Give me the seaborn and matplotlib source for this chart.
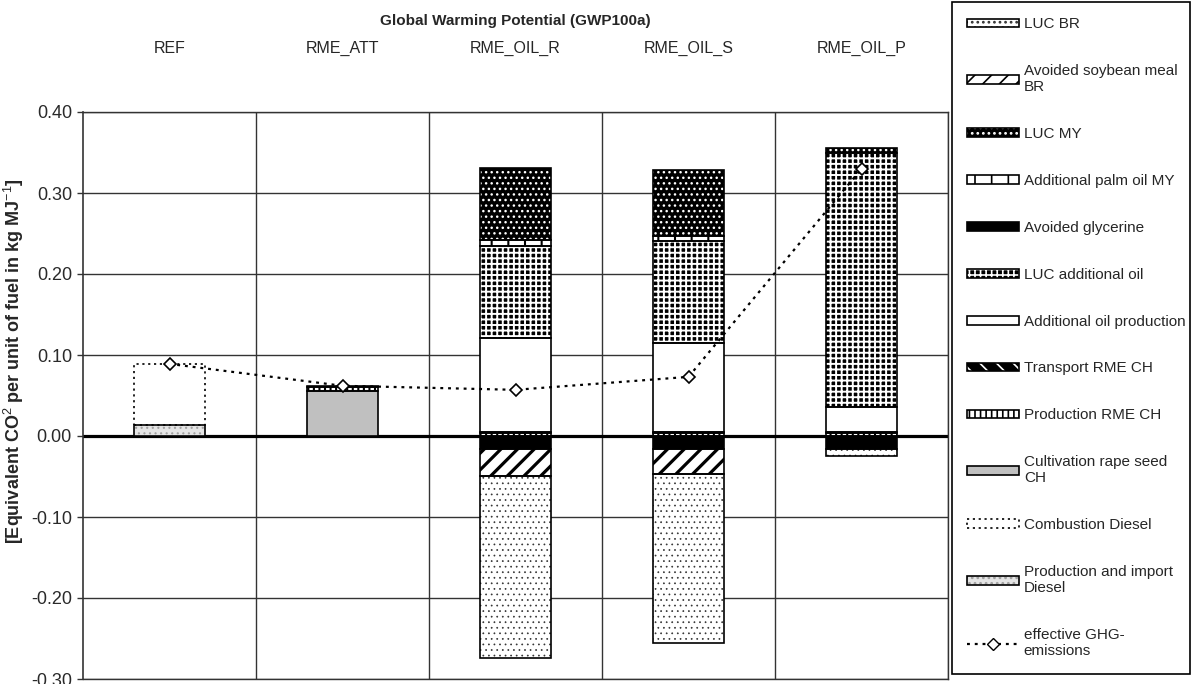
import numpy as np
import matplotlib
matplotlib.use("Agg")
import matplotlib.pyplot as plt
import matplotlib.patches as mpatches
from matplotlib.lines import Line2D
import seaborn as sns

# style
sns.set_style("white")
plt.rcParams['font.family'] = ['Liberation Sans', 'DejaVu Sans']
plt.rcParams['mathtext.fontset'] = 'custom'
plt.rcParams['mathtext.rm'] = 'Liberation Sans'
plt.rcParams['mathtext.bf'] = 'Liberation Sans:bold'
plt.rcParams['hatch.linewidth'] = 1.2

DOTTED = (0, (1.3, 2.2))

# ==========================================
# data (kg CO2-eq per MJ fuel)
# ==========================================
categories = ["REF", "RME_ATT", "RME_OIL_R", "RME_OIL_S", "RME_OIL_P"]

# stacking order, bottom -> top
prod_import_diesel = [0.014, 0.0, 0.0, 0.0, 0.0]
combustion_diesel = [0.075, 0.0, 0.0, 0.0, 0.0]
cultivation_rape = [0.0, 0.055, 0.0, 0.0, 0.0]
production_rme = [0.0, 0.006, 0.004, 0.004, 0.004]
transport_rme = [0.0, 0.001, 0.001, 0.001, 0.001]
add_oil_production = [0.0, 0.0, 0.116, 0.110, 0.031]
luc_add_oil = [0.0, 0.0, 0.114, 0.126, 0.314]
avoided_glycerine = [0.0, 0.0, -0.0165, -0.0165, -0.0165]
add_palm_oil_my = [0.0, 0.0, 0.007, 0.006, 0.0]
luc_my = [0.0, 0.0, 0.089, 0.082, 0.005]
avoided_soybean = [0.0, 0.0, -0.0325, -0.0305, 0.0]
luc_br = [0.0, 0.0, -0.2245, -0.2086, -0.008]

effective_ghg = [0.089, 0.062, 0.057, 0.073, 0.330]

y_ticks = [-0.30, -0.20, -0.10, 0.00, 0.10, 0.20, 0.30, 0.40]

# (label, values, face, hatch, hatch colour, hatch width, edge style)
layers = [
    ("Production and import\nDiesel", prod_import_diesel, '#e4e4e4', '...', '#a0a0a0', 0.8, '-'),
    ("Combustion Diesel", combustion_diesel, 'white', None, None, 1.0, DOTTED),
    ("Cultivation rape seed\nCH", cultivation_rape, '#c0c0c0', None, None, 1.0, '-'),
    ("Production RME CH", production_rme, 'white', '|||', 'black', 1.5, '-'),
    ("Transport RME CH", transport_rme, 'black', '\\\\', 'white', 1.2, '-'),
    ("Additional oil production", add_oil_production, 'white', None, None, 1.0, '-'),
    ("LUC additional oil", luc_add_oil, 'black', '+++', 'white', 1.4, '-'),
    ("Avoided glycerine", avoided_glycerine, 'black', None, None, 1.0, '-'),
    ("Additional palm oil MY", add_palm_oil_my, 'white', '|', 'black', 1.5, '-'),
    ("LUC MY", luc_my, 'black', '...', 'white', 1.0, '-'),
    ("Avoided soybean meal\nBR", avoided_soybean, 'white', '//', 'black', 2.3, '-'),
    ("LUC BR", luc_br, 'white', '...', '#333333', 0.5, '-'),
]

# ==========================================
# plot
# ==========================================
fig = plt.figure(figsize=(11.93, 6.84), dpi=100)
ax = fig.add_axes([83 / 1193, 5 / 684, 865 / 1193, 567 / 684])

x = np.arange(len(categories))
width = 0.405
pos_base = np.zeros(len(x))
neg_base = np.zeros(len(x))
handles, labels = [], []

for label, vals, face, hatch, hcol, hlw, ls in layers:
    vals = np.array(vals)
    mask = vals != 0
    bottom = np.where(vals >= 0, pos_base, neg_base)
    with plt.rc_context({'hatch.linewidth': hlw}):
        ax.bar(x[mask], vals[mask], width, bottom=bottom[mask], color=face,
               edgecolor=hcol if hcol else face, hatch=hatch, linewidth=0, zorder=2)
        fill_h = mpatches.Patch(facecolor=face, edgecolor=hcol if hcol else face,
                                hatch=hatch, linewidth=0)
    ax.bar(x[mask], vals[mask], width, bottom=bottom[mask], fill=False,
           edgecolor='black', linewidth=1.2, linestyle=ls, zorder=3)
    pos_base += np.where(vals > 0, vals, 0)
    neg_base += np.where(vals < 0, vals, 0)
    edge_h = mpatches.Patch(fill=False, edgecolor='black', linewidth=1.2, linestyle=ls)
    handles.append((fill_h, edge_h))
    labels.append(label)

# effective emissions line
sns.lineplot(x=x, y=effective_ghg, ax=ax, color='black', linestyle=DOTTED, linewidth=1.6,
             marker='D', markersize=6.5, markerfacecolor='white', markeredgecolor='black',
             markeredgewidth=1.2, zorder=5)

# grid / axes
ax.set_xlim(-0.5, len(categories) - 0.5)
ax.set_ylim(-0.30, 0.40)
ax.set_yticks(y_ticks)
ax.set_yticklabels([f"{v:.2f}" for v in y_ticks], fontsize=13, color='#2a2a2a')
ax.tick_params(axis='y', direction='out', length=4, width=1, color='#333333', pad=4, left=True)
for v in y_ticks:
    ax.axhline(v, color='#333333', linewidth=1, zorder=0)
for b in np.arange(0.5, len(categories), 1.0):
    ax.axvline(b, color='#333333', linewidth=1, zorder=0)
ax.axhline(0, color='black', linewidth=2.3, zorder=1.5)
for s in ['top', 'right', 'bottom']:
    ax.spines[s].set_visible(True)
    ax.spines[s].set_color('#333333')
    ax.spines[s].set_linewidth(1)
ax.spines['left'].set_color('#333333')
ax.spines['left'].set_linewidth(1.2)

ax.xaxis.set_ticks_position('top')
ax.set_xticks(x)
ax.set_xticklabels(categories, fontsize=11.5)
ax.tick_params(axis='x', length=0, pad=40)

ax.set_ylabel(r"[Equivalent CO$^{2}$ per unit of fuel in kg MJ$^{-1}$]",
              fontsize=13, fontweight='bold')
ax.yaxis.set_label_coords(-0.066, 0.56)

fig.text(515 / 1193, 1 - 21 / 684, "Global Warming Potential (GWP100a)",
         ha='center', va='center', fontsize=11, fontweight='bold')

# legend (Excel order = reverse of stacking)
ghg_handle = Line2D([], [], color='black', linestyle=DOTTED, linewidth=1.6, marker='D',
                    markersize=6.5, markerfacecolor='white', markeredgecolor='black')
leg = fig.legend(handles[::-1] + [ghg_handle], labels[::-1] + ["effective GHG-\nemissions"],
                 loc='upper left', bbox_to_anchor=(952 / 1193, 0.003, 238 / 1193, 0.994),
                 mode='expand', fontsize=11, handlelength=3.4, handleheight=0.5,
                 handletextpad=0.3, labelspacing=2.15, borderpad=1.0, borderaxespad=0,
                 numpoints=1, fancybox=False, framealpha=1, edgecolor='black')
leg.get_frame().set_linewidth(1.2)

fig.savefig("out.png", dpi=100)
